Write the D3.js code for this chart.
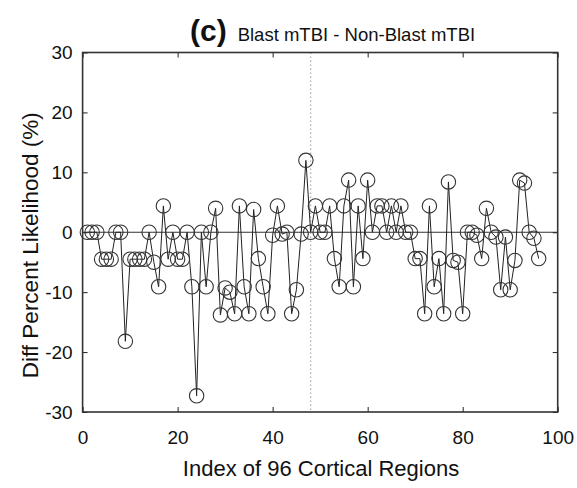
<!DOCTYPE html>
<html><head><meta charset="utf-8">
<script src="https://cdn.jsdelivr.net/npm/d3@7"></script>
<style>body{margin:0;background:#fff}svg{display:block}</style>
</head><body>
<svg id="c" width="577" height="488"></svg>
<script>
const regionIndex = d3.range(1, 97);
const diffValues = [
  0, 0, 0, -4.5, -4.5, -4.5, 0, 0, -18.2, -4.5,
  -4.5, -4.5, -4.5, 0, -5, -9.1, 4.4, -4.5, 0, -4.5,
  -4.5, 0, -9.1, -27.3, 0, -9.1, 0, 4, -13.8, -9.3,
  -10, -13.6, 4.4, -9.1, -13.6, 3.8, -4.4, -9.1, -13.6, -0.5,
  4.4, -0.3, 0, -13.6, -9.6, -0.3, 12, 0, 4.4, 0,
  0, 4.4, -4.4, -9.1, 4.4, 8.7, -9.1, 4.4, -4.4, 8.7,
  0, 4.4, 4.4, 0, 4.4, 0, 4.4, 0, 0, -4.4,
  -4.4, -13.6, 4.4, -9.1, -4.4, -13.6, 8.4, -4.7, -5, -13.6,
  0, 0, -0.5, -4.4, 4, 0, -0.8, -9.6, -0.8, -9.6,
  -4.7, 8.7, 8.2, 0, -1, -4.4
];
const xTicks = [0, 20, 40, 60, 80, 100];
const yTicks = [-30, -20, -10, 0, 10, 20, 30];
const dividerIndex = 48;

const L = 82.6, R = 557.7, T = 52.5, B = 412;
const svg = d3.select("#c");
const x = d3.scaleLinear().domain([0, 100]).range([L, R]);
const y = d3.scaleLinear().domain([-30, 30]).range([B, T]);
const font = "'Liberation Sans', Arial, sans-serif";
const ink = "#222";
const fmt = d => String(d);

svg.append("line").attr("x1", L).attr("x2", R).attr("y1", y(0)).attr("y2", y(0))
  .attr("stroke", "#333").attr("stroke-width", 1);
svg.append("line").attr("x1", x(dividerIndex)).attr("x2", x(dividerIndex))
  .attr("y1", T).attr("y2", B).attr("stroke", "#aaa").attr("stroke-width", 1.2)
  .attr("stroke-dasharray", "1.5,2.5");

const data = regionIndex.map((d, i) => [d, diffValues[i]]);
svg.append("path").datum(data)
  .attr("d", d3.line().x(d => x(d[0])).y(d => y(d[1])))
  .attr("fill", "none").attr("stroke", "#222").attr("stroke-width", 1);
svg.append("g").selectAll("circle").data(data).join("circle")
  .attr("cx", d => x(d[0])).attr("cy", d => y(d[1])).attr("r", 7.2)
  .attr("fill", "none").attr("stroke", "#333").attr("stroke-width", 1.1);

function styleAxis(g) {
  g.select(".domain").remove();
  g.selectAll(".tick line").attr("stroke", ink).attr("stroke-width", 1);
  g.selectAll("text").attr("font-family", font).attr("font-size", 19).attr("fill", "#111");
}
svg.append("g").attr("transform", `translate(0,${B})`)
  .call(d3.axisBottom(x).tickValues(xTicks).tickSize(-5).tickPadding(19).tickFormat(fmt))
  .call(styleAxis);
svg.append("g").attr("transform", `translate(0,${T})`)
  .call(d3.axisTop(x).tickValues(xTicks).tickSize(-5).tickFormat(""))
  .call(styleAxis);
svg.append("g").attr("transform", `translate(${L},0)`)
  .call(d3.axisLeft(y).tickValues(yTicks).tickSize(-5).tickPadding(10).tickFormat(fmt))
  .call(styleAxis);
svg.append("g").attr("transform", `translate(${R},0)`)
  .call(d3.axisRight(y).tickValues(yTicks).tickSize(-5).tickFormat(""))
  .call(styleAxis);

svg.append("rect").attr("x", L).attr("y", T).attr("width", R - L).attr("height", B - T)
  .attr("fill", "none").attr("stroke", "#333").attr("stroke-width", 1.6);

svg.append("text").attr("x", 321).attr("y", 476).attr("text-anchor", "middle")
  .attr("font-family", font).attr("font-size", 22).attr("fill", "#111")
  .text("Index of 96 Cortical Regions");
svg.append("text").attr("transform", `translate(38,${(T + B) / 2 + 13}) rotate(-90)`)
  .attr("text-anchor", "middle").attr("font-family", font).attr("font-size", 22.5).attr("fill", "#111")
  .text("Diff Percent Likelihood (%)");
const title = svg.append("text").attr("x", 190).attr("y", 41)
  .attr("font-family", font).attr("fill", "#111");
title.append("tspan").attr("font-weight", "bold").attr("font-size", 30).text("(c)");
title.append("tspan").attr("font-size", 18.5).attr("dx", 11).text("Blast mTBI - Non-Blast mTBI");
</script>
</body></html>
